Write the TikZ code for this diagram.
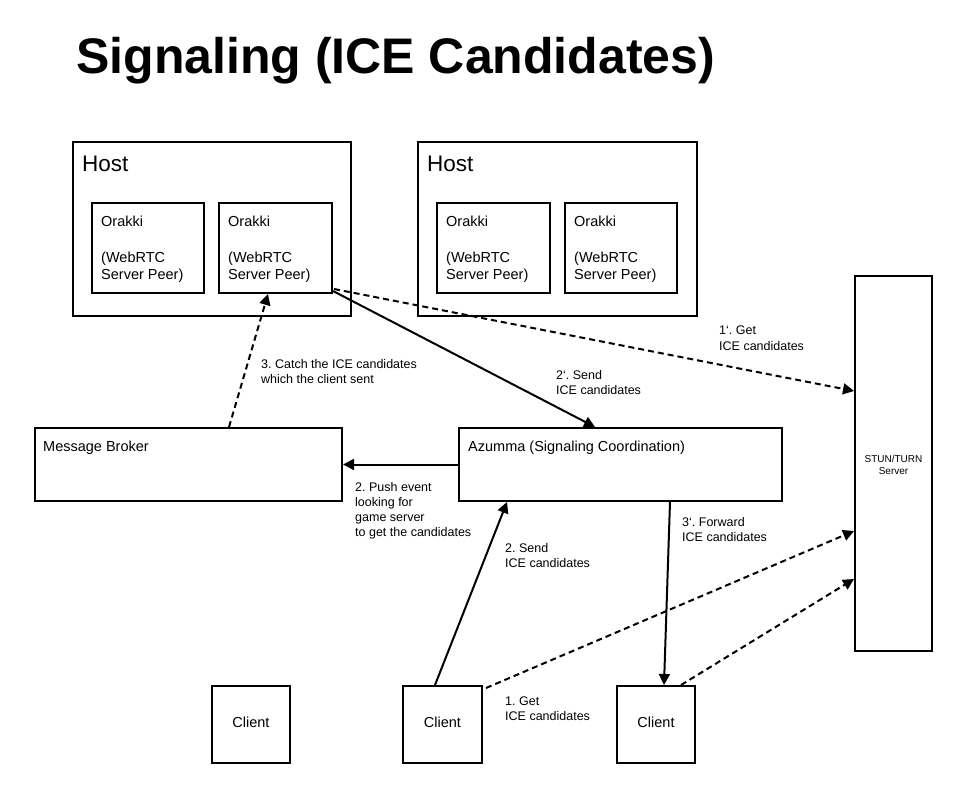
\documentclass[tikz,border=0pt]{standalone}
\usepackage{fontspec}
\setmainfont{Liberation Sans}
\usetikzlibrary{arrows.meta,calc}
\newcommand{\gv}{\symbol{96}}
\begin{document}
\frenchspacing
\begin{tikzpicture}[x=1pt,y=-1pt,
  box/.style={draw, line width=2pt, inner sep=0pt},
  lbl/.style={anchor=base west, inner sep=0pt, font=\fontsize{14.5}{17}\selectfont},
  big/.style={anchor=base west, inner sep=0pt, font=\fontsize{22.5}{26}\selectfont},
  sm/.style={anchor=base west, inner sep=0pt, font=\fontsize{12.5}{15}\selectfont},
  tiny/.style={anchor=base, inner sep=0pt, font=\fontsize{10}{12}\selectfont},
  arr/.style={line width=2pt, -{Triangle[length=11pt,width=11pt]}},
  darr/.style={arr, dash pattern=on 6pt off 4pt}]
\fill[white] (0,0) rectangle (970,802);
\useasboundingbox (0,0) rectangle (970,802);

\node[anchor=base west, inner sep=0pt, font=\fontsize{50}{60}\selectfont\bfseries] (title) at (76,74) {Signaling (ICE Candidates)};

% boxes
\node[box, minimum width=278pt, minimum height=174pt] (host1) at (212,229) {};
\node[box, minimum width=279pt, minimum height=174pt] (host2) at (557.5,229) {};
\node[box, minimum width=112pt, minimum height=90pt] (o1) at (148,248) {};
\node[box, minimum width=113pt, minimum height=90pt] (o2) at (275.5,248) {};
\node[box, minimum width=113pt, minimum height=90pt] (o3) at (493.5,248) {};
\node[box, minimum width=112pt, minimum height=90pt] (o4) at (621,248) {};
\node[box, minimum width=77pt, minimum height=375pt] (stun) at (893.5,463.5) {};
\node[box, minimum width=307pt, minimum height=73pt] (mb) at (188.5,464.5) {};
\node[box, minimum width=323pt, minimum height=73pt] (az) at (620.5,464.5) {};
\node[box, minimum width=78pt, minimum height=77pt] (c1) at (251,724.5) {};
\node[box, minimum width=79pt, minimum height=77pt] (c2) at (442.5,724.5) {};
\node[box, minimum width=78pt, minimum height=77pt] (c3) at (656,724.5) {};

% box texts
\node[big] (h1t) at (82,172) {Host};
\node[big] (h2t) at (427,172) {Host};
\foreach \n/\x in {a/101,b/228,c/446,d/574}{
  \node[lbl] (ok\n) at (\x,227) {Orakki};
  \node[lbl] (wr\n) at (\x,263) {(WebRTC};
  \node[lbl] (sp\n) at (\x,280) {Server Peer)};
}
\node[lbl] (mbt) at (43,451) {Message Broker};
\node[lbl] (azt) at (468,451) {Azumma (Signaling Coordination)};
\node[lbl, anchor=base] (c1t) at (251,727) {Client};
\node[lbl, anchor=base] (c2t) at (442.5,727) {Client};
\node[lbl, anchor=base] (c3t) at (656,727) {Client};
\node[tiny] (st1) at (893.5,462) {STUN/TURN};
\node[tiny] (st2) at (893.5,475) {Server};

% connectors
\draw[darr] ($(o2.south east)+(1,-5)$) -- ($(stun.north west)+(0,116)$);
\draw[arr] ($(o2.south east)+(0,-3)$) -- ($(az.north west)+(137,0)$);
\draw[darr] ($(mb.north west)+(195,0)$) -- ($(o2.south west)+(50,0)$);
\draw[arr] (az.west) -- (mb.east);
\draw[arr] ($(c2.north west)+(33,0)$) -- ($(az.south west)+(49,0)$);
\draw[arr] ($(az.south west)+(212,0)$) -- ($(c3.north west)+(48,0)$);
\draw[darr] ($(c2.north east)+(3,3)$) -- ($(stun.north west)+(0,256)$);
\draw[darr] ($(c3.north east)+(-15,0)$) -- ($(stun.north west)+(0,304)$);

% connector labels
\node[sm] (l1a) at (719,335) {1\gv. Get};
\node[sm] (l1b) at (719,351) {ICE candidates};
\node[sm] (l2a) at (556,380) {2\gv. Send};
\node[sm] (l2b) at (556,395) {ICE candidates};
\node[sm] (l3a) at (261,369) {3. Catch the ICE candidates};
\node[sm] (l3b) at (261,384) {which the client sent};
\node[sm] (l4a) at (355,491) {2. Push event};
\node[sm] (l4b) at (355,506) {looking for};
\node[sm] (l4c) at (355,521) {game server};
\node[sm] (l4d) at (355,536) {to get the candidates};
\node[sm] (l5a) at (505,552) {2. Send};
\node[sm] (l5b) at (505,567) {ICE candidates};
\node[sm] (l6a) at (682,526) {3\gv. Forward};
\node[sm] (l6b) at (682,541) {ICE candidates};
\node[sm] (l7a) at (505,705) {1. Get};
\node[sm] (l7b) at (505,720) {ICE candidates};
\end{tikzpicture}
\end{document}
